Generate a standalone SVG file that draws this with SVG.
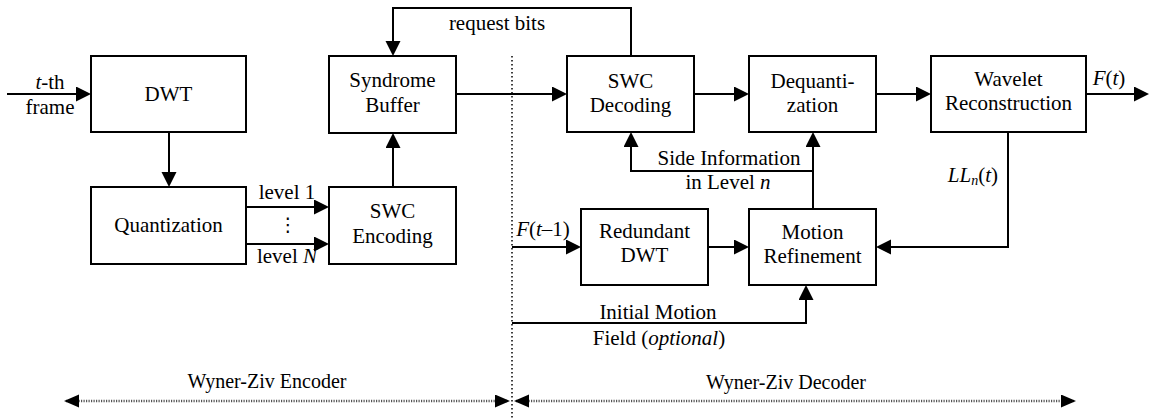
<svg xmlns="http://www.w3.org/2000/svg" width="1151" height="418" viewBox="0 0 1151 418">
<style>
.box{fill:#fff;stroke:#000;stroke-width:2}
.t{font-family:'Liberation Serif',Tinos,'Times New Roman',Times,'DejaVu Serif',serif;font-size:21px;fill:#000;text-anchor:middle}
.c{fill:none;stroke:#000;stroke-width:2}
.d{fill:none;stroke:#555;stroke-width:2.5;stroke-dasharray:1.2 1.3}
.i{font-style:italic}
</style>
<defs>
<marker id="ah" markerUnits="userSpaceOnUse" markerWidth="16" markerHeight="16" refX="13" refY="7.5" orient="auto">
<path d="M0,0 L15,7.5 L0,15 z" fill="#000"/>
</marker>
<marker id="sh" markerUnits="userSpaceOnUse" markerWidth="16" markerHeight="14" refX="13" refY="6.5" orient="auto-start-reverse">
<path d="M0,0 L15,6.5 L0,13 z" fill="#000"/>
</marker>
</defs>
<line x1="512" y1="56" x2="512" y2="418" stroke="#000" stroke-width="1.5" stroke-dasharray="1.5 2.5"/>
<g id="connectors">
<path class="c" d="M7,94 H89" marker-end="url(#ah)"/>
<path class="c" d="M169,132 V185" marker-end="url(#ah)"/>
<path class="c" d="M246,207 H327" marker-end="url(#ah)"/>
<path class="c" d="M246,244 H327" marker-end="url(#ah)"/>
<path class="c" d="M393,187 V135" marker-end="url(#ah)"/>
<path class="c" d="M456,94 H565" marker-end="url(#ah)"/>
<path class="c" d="M631,56 V8 H393 V54" marker-end="url(#ah)"/>
<path class="c" d="M694,94 H747" marker-end="url(#ah)"/>
<path class="c" d="M876,94 H929" marker-end="url(#ah)"/>
<path class="c" d="M1086,94 H1147" marker-end="url(#ah)"/>
<path class="c" d="M1008,132 V247 H878" marker-end="url(#ah)"/>
<path class="c" d="M813,209 V134" marker-end="url(#ah)"/>
<path class="c" d="M813,171 H631 V134" marker-end="url(#ah)"/>
<path class="c" d="M512,247 H579" marker-end="url(#ah)"/>
<path class="c" d="M708,247 H747" marker-end="url(#ah)"/>
<path class="c" d="M512,323 H806 V287" marker-end="url(#ah)"/>
<path class="d" d="M66,401 H508" marker-start="url(#sh)" marker-end="url(#sh)"/>
<path class="d" d="M516,401 H1074" marker-start="url(#sh)" marker-end="url(#sh)"/>
</g>
<g id="labels">
<text class="t" x="50" y="89"><tspan class="i">t</tspan>-th</text>
<text class="t" x="50" y="114">frame</text>
<text class="t" x="287" y="199">level 1</text>
<text class="t" x="287" y="263">level <tspan class="i">N</tspan></text>
<text x="288" y="231" style="font-family:'DejaVu Serif','DejaVu Sans',serif;font-size:19px;text-anchor:middle">⋮</text>
<text class="t" x="497" y="30">request bits</text>
<text class="t" x="1109" y="85"><tspan class="i">F</tspan>(<tspan class="i">t</tspan>)</text>
<text class="t" x="998" y="182" style="text-anchor:end"><tspan class="i">LL</tspan><tspan class="i" font-size="14" dy="3">n</tspan><tspan dy="-3">(</tspan><tspan class="i">t</tspan>)</text>
<text class="t" x="729" y="165">Side Information</text>
<text class="t" x="728" y="189">in Level <tspan class="i">n</tspan></text>
<text class="t" x="543" y="236"><tspan class="i">F</tspan>(<tspan class="i">t</tspan>–1)</text>
<text class="t" x="658" y="319">Initial Motion</text>
<text class="t" x="659" y="345">Field (<tspan class="i">optional</tspan>)</text>
<text class="t" x="267" y="388" style="font-size:20px">Wyner-Ziv Encoder</text>
<text class="t" x="786" y="389" style="font-size:20px">Wyner-Ziv Decoder</text>
</g>
<g id="dwt"><rect class="box" x="91" y="56" width="155" height="76"/><text class="t" x="168.5" y="101">DWT</text></g>
<g id="quantization"><rect class="box" x="91" y="187" width="155" height="77"/><text class="t" x="168.5" y="232">Quantization</text></g>
<g id="swc-encoding"><rect class="box" x="329" y="187" width="127" height="77"/><text class="t" x="392.5" y="218">SWC</text><text class="t" x="392.5" y="243">Encoding</text></g>
<g id="syndrome-buffer"><rect class="box" x="329" y="56" width="127" height="77"/><text class="t" x="392.5" y="87">Syndrome</text><text class="t" x="392.5" y="112">Buffer</text></g>
<g id="swc-decoding"><rect class="box" x="567" y="56" width="127" height="76"/><text class="t" x="630.5" y="88">SWC</text><text class="t" x="630.5" y="112">Decoding</text></g>
<g id="dequantization"><rect class="box" x="749" y="56" width="127" height="76"/><text class="t" x="812.5" y="88">Dequanti-</text><text class="t" x="812.5" y="112">zation</text></g>
<g id="wavelet-reconstruction"><rect class="box" x="931" y="56" width="155" height="76"/><text class="t" x="1008.5" y="86">Wavelet</text><text class="t" x="1008.5" y="110">Reconstruction</text></g>
<g id="redundant-dwt"><rect class="box" x="581" y="209" width="127" height="76"/><text class="t" x="644.5" y="238">Redundant</text><text class="t" x="644.5" y="262">DWT</text></g>
<g id="motion-refinement"><rect class="box" x="749" y="209" width="127" height="76"/><text class="t" x="812.5" y="239">Motion</text><text class="t" x="812.5" y="263">Refinement</text></g>
</svg>
